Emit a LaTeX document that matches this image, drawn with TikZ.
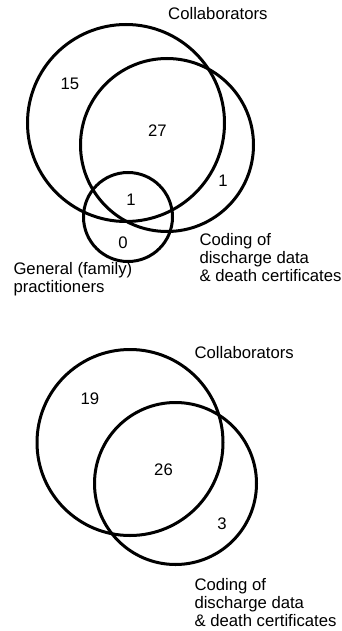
\documentclass[tikz,border=0pt]{standalone}
\usepackage{fontspec}
\setmainfont{Liberation Sans}
\begin{document}
\begin{tikzpicture}[x=1pt,y=-1pt,
  venn/.style={draw=black,line width=3pt},
  lbl/.style={inner sep=0pt,anchor=base west,font=\fontsize{16.7}{18}\selectfont},
  num/.style={inner sep=0pt,anchor=base,font=\fontsize{16.7}{18}\selectfont}]
\useasboundingbox[fill=white] (0,0) rectangle (341,631);
% top diagram
\draw[venn] (126,123) circle (98.5pt);
\draw[venn] (167,145) circle (86.5pt);
\draw[venn] (128,217) circle (44.5pt);
\node[lbl] (tcol) at (168,20) {Collaborators};
\node[num] (t15) at (70,90) {15};
\node[num] (t27) at (157.5,137) {27};
\node[num] (t1a) at (131,205) {1};
\node[num] (t1b) at (223,186) {1};
\node[num] (t0) at (123,248) {0};
\node[lbl] (tc1) at (199.3,245) {Coding of};
\node[lbl] (tc2) at (199.3,263) {discharge data};
\node[lbl] (tc3) at (199.3,281) {\& death certificates};
\node[lbl] (tg1) at (13.3,274) {General (family)};
\node[lbl] (tg2) at (13.3,292) {practitioners};
% bottom diagram
\draw[venn] (130,442.5) circle (93pt);
\draw[venn] (175.5,483.5) circle (81pt);
\node[lbl] (bcol) at (194.3,358.5) {Collaborators};
\node[num] (b19) at (90,404) {19};
\node[num] (b26) at (163.5,475) {26};
\node[num] (b3) at (222,529) {3};
\node[lbl] (bc1) at (194.3,590) {Coding of};
\node[lbl] (bc2) at (194.3,608.5) {discharge data};
\node[lbl] (bc3) at (194.3,626.5) {\& death certificates};
\end{tikzpicture}
\end{document}
